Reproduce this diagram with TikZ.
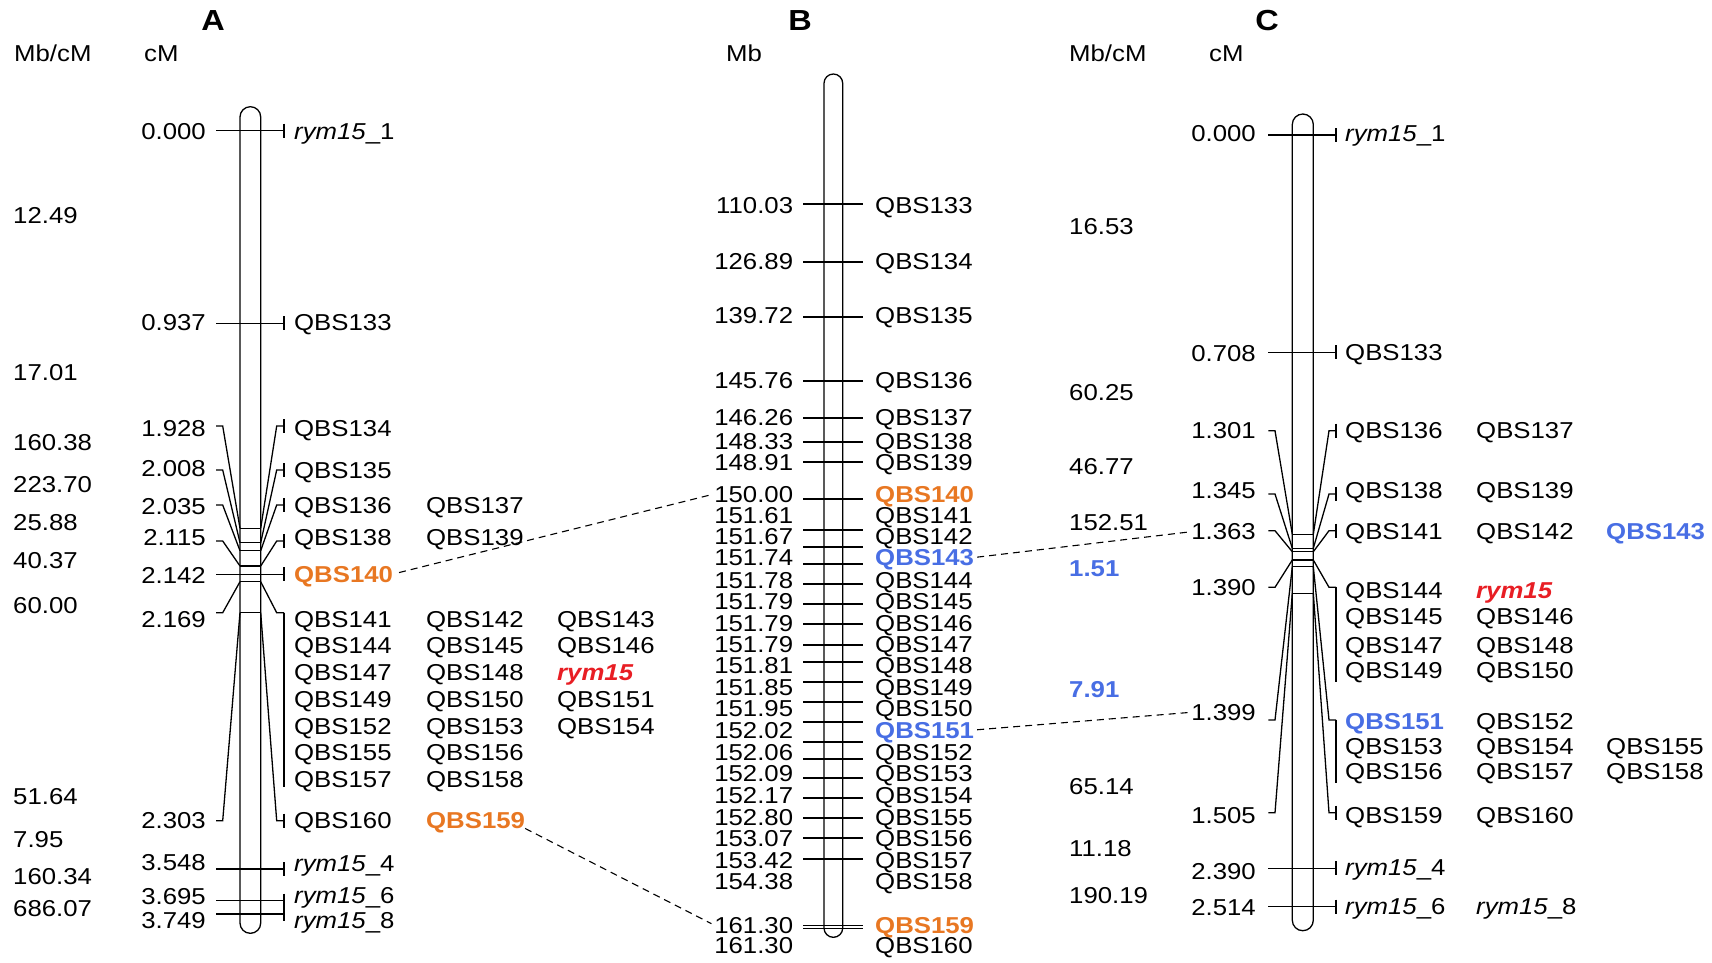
\documentclass[tikz,border=0pt]{standalone}
\usepackage{fontspec}
\setmainfont{Liberation Sans}[FakeStretch=1.12]
\definecolor{orgc}{RGB}{232,119,34}
\definecolor{bluc}{RGB}{72,110,228}
\definecolor{redc}{RGB}{232,30,36}
\newcommand{\rym}[1]{\textit{rym15}\_#1}
\begin{document}
\begin{tikzpicture}[x=1pt,y=-1pt,
  txt/.style={inner sep=0pt,text height=16.5pt,text depth=0pt,font=\fontsize{23}{27}\selectfont},
  lt/.style={txt,anchor=east},
  rt/.style={txt,anchor=west},
  bo/.style={font=\fontsize{23}{27}\selectfont\bfseries},
  hd/.style={inner sep=0pt,text height=21pt,text depth=0pt,font=\fontsize{29}{33}\selectfont\bfseries},
  org/.style={bo,text=orgc},
  blu/.style={bo,text=bluc},
  nrm/.style={},
  ln/.style={line width=1.3pt},
  chrom/.style={line width=1.3pt},
  dsh/.style={line width=1.1pt,dash pattern=on 7pt off 5pt}]
\useasboundingbox (0,0) rectangle (1712,962);

% ================= Panel A =================
\node[hd] (hA) at (213,20) {A};
\node[rt] (hA1) at (14,53) {Mb/cM};
\node[rt] (hA2) at (144,53) {cM};
\foreach \v/\y [count=\i] in {12.49/215, 17.01/372.7, 160.38/442.7, 223.70/484, 25.88/522.7, 40.37/560, 60.00/605, 51.64/796, 7.95/839.3, 160.34/876.7, 686.07/908.3}
  \node[rt] (Am\i) at (13,\y) {\v};

\draw[chrom,rounded corners=10.3pt] (240,106.7) rectangle (260.7,933.3);
\foreach \y in {130.7,323.3,574.3,869,900.7,914} {
  \draw[ln] (216,\y) -- (284,\y);
  \draw[ln] (284,\y-7) -- (284,\y+7);
}
\foreach \b in {528.3,542.7,550.7,566,581.7,612.7}
  \draw[ln] (240,\b) -- (260.7,\b);
\foreach \s/\b in {426/528.3, 470/542.7, 505/550.7, 541/566, 612.7/581.7, 820.7/612.7} {
  \draw[ln] (216,\s) -- (222.7,\s) -- (240,\b);
  \draw[ln] (260.7,\b) -- (276.7,\s) -- (284,\s);
}
\foreach \s in {426,470,505,541,820.7}
  \draw[ln] (284,\s-7) -- (284,\s+7);
\draw[ln] (284,612.7) -- (284,786.7);

\foreach \v/\y [count=\i] in {0.000/131, 0.937/322, 1.928/428.3, 2.008/468.3, 2.035/506, 2.115/537, 2.142/575, 2.169/619, 2.303/820, 3.548/862.7, 3.695/896, 3.749/920.7}
  \node[lt] (An\i) at (206,\y) {\v};

\node[rt] (Aq1) at (294,131) {\rym{1}};
\node[rt] (Aq133) at (294,322) {QBS133};
\node[rt] (Aq134) at (294,428.3) {QBS134};
\node[rt] (Aq135) at (294,470) {QBS135};
\node[rt] (Aq136) at (294,505) {QBS136};
\node[rt] (Aq137) at (426,505) {QBS137};
\node[rt] (Aq138) at (294,537) {QBS138};
\node[rt] (Aq139) at (426,537) {QBS139};
\node[rt,org] (Aq140) at (294,574) {QBS140};
\node[rt] (Aq141) at (294,619) {QBS141};
\node[rt] (Aq142) at (426,619) {QBS142};
\node[rt] (Aq143) at (557,619) {QBS143};
\node[rt] (Aq144) at (294,645.7) {QBS144};
\node[rt] (Aq145) at (426,645.7) {QBS145};
\node[rt] (Aq146) at (557,645.7) {QBS146};
\node[rt] (Aq147) at (294,672.7) {QBS147};
\node[rt] (Aq148) at (426,672.7) {QBS148};
\node[rt,bo,text=redc] (Arym) at (557,672.7) {\textit{rym15}};
\node[rt] (Aq149) at (294,699.3) {QBS149};
\node[rt] (Aq150) at (426,699.3) {QBS150};
\node[rt] (Aq151) at (557,699.3) {QBS151};
\node[rt] (Aq152) at (294,726) {QBS152};
\node[rt] (Aq153) at (426,726) {QBS153};
\node[rt] (Aq154) at (557,726) {QBS154};
\node[rt] (Aq155) at (294,752.7) {QBS155};
\node[rt] (Aq156) at (426,752.7) {QBS156};
\node[rt] (Aq157) at (294,779.3) {QBS157};
\node[rt] (Aq158) at (426,779.3) {QBS158};
\node[rt] (Aq160) at (294,820) {QBS160};
\node[rt,org] (Aq159) at (426,820) {QBS159};
\node[rt] (Aq4) at (294,863.3) {\rym{4}};
\node[rt] (Aq6) at (294,895) {\rym{6}};
\node[rt] (Aq8) at (294,920.7) {\rym{8}};

% ================= Panel B =================
\node[hd] (hB) at (800,20) {B};
\node[rt] (hB1) at (726,53) {Mb};
\draw[chrom,rounded corners=9.3pt] (824,74) rectangle (842.7,937.3);
\foreach \m/\num/\ty/\ly/\st in {
133/110.03/205/204/nrm, 134/126.89/261/262/nrm, 135/139.72/315/317/nrm,
136/145.76/380.5/381/nrm, 137/146.26/417/418/nrm, 138/148.33/441.5/442/nrm,
139/148.91/462.5/462/nrm, 140/150.00/494/499/org, 141/151.61/515/530/nrm,
142/151.67/536/547/nrm, 143/151.74/557.5/564/blu, 144/151.78/580/584/nrm,
145/151.79/601/604/nrm, 146/151.79/623/624/nrm, 147/151.79/644/645/nrm,
148/151.81/665/662/nrm, 149/151.85/687/682/nrm, 150/151.95/708/702/nrm,
151/152.02/730/722/blu, 152/152.06/752/742/nrm, 153/152.09/773.5/759/nrm,
154/152.17/795/778/nrm, 155/152.80/817/798/nrm, 156/153.07/838.5/818/nrm,
157/153.42/860/838/nrm, 158/154.38/881/859/nrm, 159/161.30/925/925.7/org,
160/161.30/945.5/928.3/nrm}
{
  \draw[ln] (803.3,\ly) -- (863.3,\ly);
  \node[lt] (Bn\m) at (793.3,\ty) {\num};
  \node[rt,\st] (Bq\m) at (875,\ty) {QBS\m};
}

% ================= Panel C =================
\node[hd] (hC) at (1267,20) {C};
\node[rt] (hC1) at (1069,53) {Mb/cM};
\node[rt] (hC2) at (1209,53) {cM};
\foreach \v/\y [count=\i] in {16.53/226.7, 60.25/392.7, 46.77/466, 152.51/522.7, 65.14/786, 11.18/848.3, 190.19/895}
  \node[rt] (Cm\i) at (1069,\y) {\v};
\node[rt,blu] (Cmb1) at (1069,568.3) {1.51};
\node[rt,blu] (Cmb2) at (1069,689.3) {7.91};

\draw[chrom,rounded corners=10.5pt] (1292.3,114) rectangle (1313.3,930.7);
\foreach \y in {135,352.3,868.3,906.7} {
  \draw[ln] (1268.3,\y) -- (1336,\y);
  \draw[ln] (1336,\y-7) -- (1336,\y+7);
}
\foreach \b in {534.3,548.3,551.7,560,566.7,593.3}
  \draw[ln] (1292.3,\b) -- (1313.3,\b);
\foreach \s/\b in {430.7/534.3, 494/548.3, 530.7/551.7, 587.3/560, 720/566.7, 812.7/593.3} {
  \draw[ln] (1268.3,\s) -- (1275,\s) -- (1292.3,\b);
  \draw[ln] (1313.3,\b) -- (1329,\s) -- (1336,\s);
}
\foreach \s in {430.7,494,530.7,812.7}
  \draw[ln] (1336,\s-7) -- (1336,\s+7);
\draw[ln] (1336,587.3) -- (1336,681.7);
\draw[ln] (1336,720) -- (1336,783.3);

\node[lt] (Cn0) at (1256,133) {0.000};
\node[lt] (Cn0708) at (1256,353.3) {0.708};
\node[lt] (Cn1301) at (1256,430) {1.301};
\node[lt] (Cn1345) at (1256,490) {1.345};
\node[lt] (Cn1363) at (1256,531.7) {1.363};
\node[lt] (Cn1390) at (1256,587.3) {1.390};
\node[lt] (Cn1399) at (1256,712.3) {1.399};
\node[lt] (Cn1505) at (1256,815) {1.505};
\node[lt] (Cn2390) at (1256,871.7) {2.390};
\node[lt] (Cn2514) at (1256,907.3) {2.514};

\node[rt] (Cq1) at (1345,133) {\rym{1}};
\node[rt] (Cq133) at (1345,352.3) {QBS133};
\node[rt] (Cq136) at (1345,430) {QBS136};
\node[rt] (Cq137) at (1476,430) {QBS137};
\node[rt] (Cq138) at (1345,490) {QBS138};
\node[rt] (Cq139) at (1476,490) {QBS139};
\node[rt] (Cq141) at (1345,531.7) {QBS141};
\node[rt] (Cq142) at (1476,531.7) {QBS142};
\node[rt,blu] (Cq143) at (1606,531.7) {QBS143};
\node[rt] (Cq144) at (1345,590) {QBS144};
\node[rt,bo,text=redc] (Crym) at (1476,590) {\textit{rym15}};
\node[rt] (Cq145) at (1345,616.7) {QBS145};
\node[rt] (Cq146) at (1476,616.7) {QBS146};
\node[rt] (Cq147) at (1345,645) {QBS147};
\node[rt] (Cq148) at (1476,645) {QBS148};
\node[rt] (Cq149) at (1345,670) {QBS149};
\node[rt] (Cq150) at (1476,670) {QBS150};
\node[rt,blu] (Cq151) at (1345,721.7) {QBS151};
\node[rt] (Cq152) at (1476,721.7) {QBS152};
\node[rt] (Cq153) at (1345,746.7) {QBS153};
\node[rt] (Cq154) at (1476,746.7) {QBS154};
\node[rt] (Cq155) at (1606,746.7) {QBS155};
\node[rt] (Cq156) at (1345,771.7) {QBS156};
\node[rt] (Cq157) at (1476,771.7) {QBS157};
\node[rt] (Cq158) at (1606,771.7) {QBS158};
\node[rt] (Cq159) at (1345,815) {QBS159};
\node[rt] (Cq160) at (1476,815) {QBS160};
\node[rt] (Cq4) at (1345,867.3) {\rym{4}};
\node[rt] (Cq6) at (1345,906.7) {\rym{6}};
\node[rt] (Cq8) at (1476,906.7) {\rym{8}};

% ================= dashed links =================
\draw[dsh,shorten <=6pt,shorten >=3pt] (Aq140.east) -- (Bn140.west);
\draw[dsh,shorten >=3pt] (Aq159.south east) -- (Bn159.west);
\draw[dsh,shorten <=3pt,shorten >=2pt] (Bq143.east) -- (Cn1363.west);
\draw[dsh,shorten <=3pt,shorten >=2pt] (Bq151.east) -- (Cn1399.west);
\end{tikzpicture}
\end{document}
